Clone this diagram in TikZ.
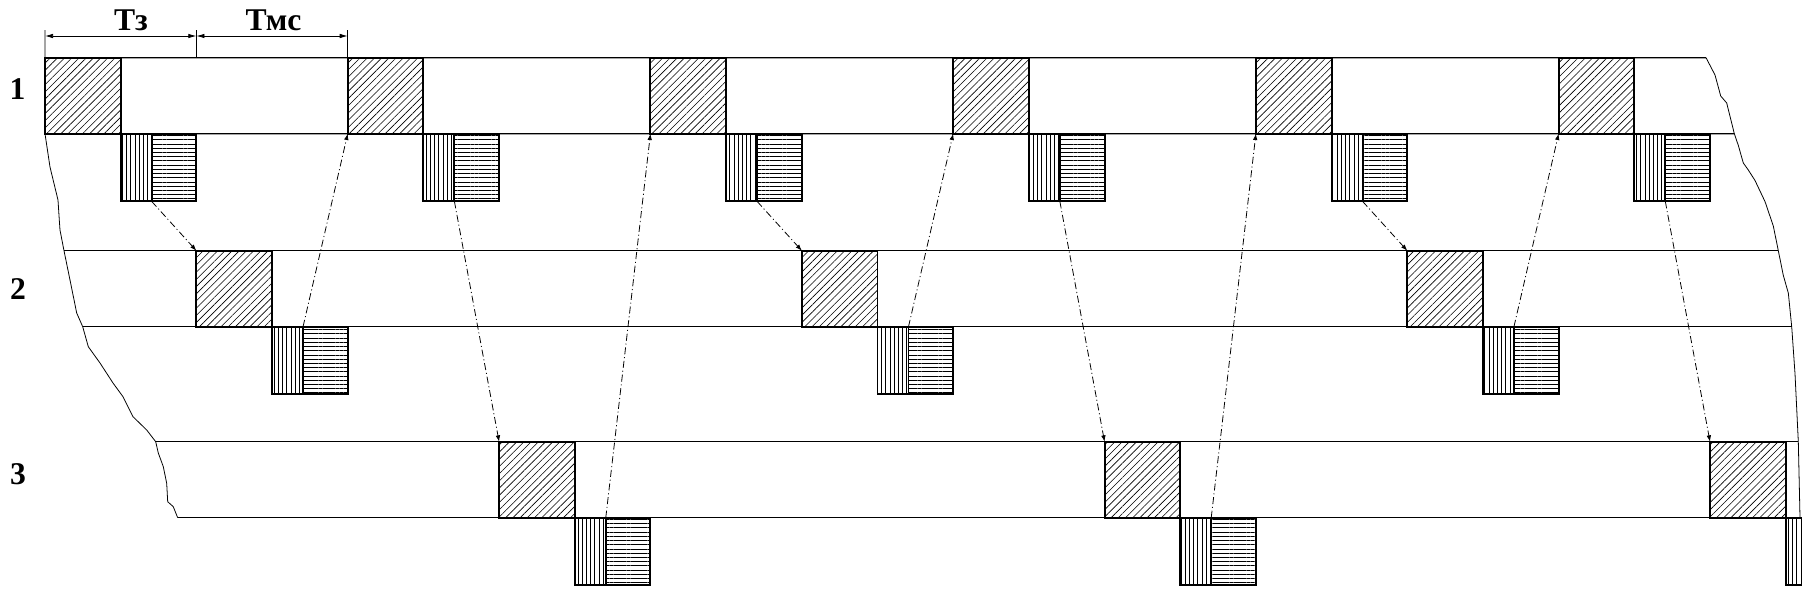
\documentclass[tikz,border=0pt]{standalone}
\usepackage{fontspec}
\setmainfont{Liberation Serif}
\usetikzlibrary{positioning, arrows.meta, patterns.meta}

\begin{document}
\begin{tikzpicture}[x=0.2mm, y=-0.2mm, on grid,
        blk/.style={draw, line width=1.1pt, inner sep=0pt, outer sep=0pt,
            minimum width=15.136mm, minimum height=15.2mm,
            pattern={Lines[angle=45, distance=2.9pt, line width=0.35pt]}},
        vbar/.style={draw, line width=1.1pt, inner sep=0pt, outer sep=0pt, anchor=north west,
            minimum width=6.2mm, minimum height=13.54mm,
            pattern={Lines[angle=90, distance=2.4pt, line width=0.35pt]}},
        hbar/.style={vbar, minimum width=8.936mm,
            pattern={Lines[angle=0, distance=2.4pt, line width=0.35pt]}},
        row/.style={line width=0.75pt},
        brk/.style={line width=0.45pt},
        sig/.style={line width=0.45pt, dash pattern=on 4pt off 1.6pt on 0.6pt off 1.6pt,
            -{Latex[length=3.6pt, width=2.6pt]}},
        dim/.style={line width=0.45pt,
            {Latex[length=4.6pt, width=2.6pt]}-{Latex[length=4.6pt, width=2.6pt]}},
        lbl/.style={font=\fontsize{18}{20}\selectfont\bfseries, inner sep=0pt}]

        \useasboundingbox (0,0) rectangle (1802,591);
        \clip (0,0) rectangle (1802,591);

        % Blocks
        \node[blk] (b0) at (82.84,95.7) {};
        \node[blk] (b1) [below right=38.6mm and 30.272mm of b0] {};
        \node[blk] (b2) [right=60.544mm of b0] {};
        \node[blk] (b3) [below right=76.8mm and 30.272mm of b2] {};
        \node[blk] (b4) [right=60.544mm of b2] {};
        \node[blk] (b5) [below right=38.6mm and 30.272mm of b4] {};
        \node[blk] (b6) [right=60.544mm of b4] {};
        \node[blk] (b7) [below right=76.8mm and 30.272mm of b6] {};
        \node[blk] (b8) [right=60.544mm of b6] {};
        \node[blk] (b9) [below right=38.6mm and 30.272mm of b8] {};
        \node[blk] (b10) [right=60.544mm of b8] {};
        \node[blk] (b11) [below right=76.8mm and 30.272mm of b10] {};

        % Replies
        \node[vbar] (v0) at (b0.south east) {};   \node[hbar] (h0) at (v0.north east) {};
        \node[vbar] (v1) at (b1.south east) {};   \node[hbar] (h1) at (v1.north east) {};
        \node[vbar] (v2) at (b2.south east) {};   \node[hbar] (h2) at (v2.north east) {};
        \node[vbar] (v3) at (b3.south east) {};   \node[hbar] (h3) at (v3.north east) {};
        \node[vbar] (v4) at (b4.south east) {};   \node[hbar] (h4) at (v4.north east) {};
        \node[vbar] (v5) at (b5.south east) {};   \node[hbar] (h5) at (v5.north east) {};
        \node[vbar] (v6) at (b6.south east) {};   \node[hbar] (h6) at (v6.north east) {};
        \node[vbar] (v7) at (b7.south east) {};   \node[hbar] (h7) at (v7.north east) {};
        \node[vbar] (v8) at (b8.south east) {};   \node[hbar] (h8) at (v8.north east) {};
        \node[vbar] (v9) at (b9.south east) {};   \node[hbar] (h9) at (v9.north east) {};
        \node[vbar] (v10) at (b10.south east) {}; \node[hbar] (h10) at (v10.north east) {};
        \node[vbar] (v11) at (b11.south east) {}; \node[hbar] (h11) at (v11.north east) {};

        % Break lines
        \coordinate (L2t) at (64,250.7);
        \coordinate (L2b) at (82.7,326.7);
        \coordinate (L3t) at (155.7,441.7);
        \coordinate (L3b) at (177.7,517.7);
        \coordinate (R1t) at (1706,57.7);
        \coordinate (R1b) at (1734.3,133.7);
        \coordinate (R2t) at (1778.3,250.7);
        \coordinate (R2b) at (1791.7,326.7);
        \coordinate (R3t) at (1798.3,441.7);
        \coordinate (R3b) at (1800,517.7);
        \draw[brk] (b0.south west) -- (50,167) -- (58,200) -- (59.3,220) -- (60,230) -- (L2t)
            -- (70,280) -- (76.7,313) -- (L2b) -- (88.3,346.7) -- (100,363) -- (113,383)
            -- (123,396.7) -- (133,416.7) -- (146.7,430) -- (L3t) -- (158.3,453) -- (163.3,466.7)
            -- (166.7,483.3) -- (167.7,501.7) -- (173.3,506.7) -- (L3b);
        \draw[brk] (R1t) -- (1715,75) -- (1720.7,96) -- (1726.7,103) -- (R1b) -- (1738.3,145.4)
            -- (1743.3,163) -- (1748.3,170) -- (1755,180.5) -- (1765,201.6) -- (1773.3,226)
            -- (R2t) -- (1783.3,275.4) -- (1788.3,293) -- (R2b) -- (1795,373.8) -- (R3t) -- (R3b);

        % Rows
        \draw[row] (b0.north west) -- (R1t);
        \draw[row] (b0.south west) -- (R1b);
        \draw[row] (L2t) -- (R2t);
        \draw[row] (L2b) -- (R2b);
        \draw[row] (L3t) -- (R3t);
        \draw[row] (L3b) -- (R3b);

        % Transfers
        \path[sig]
            (h0.south west) edge (b1.north west)
            (h1.north west) edge (b2.south west)
            (h2.south west) edge (b3.north west)
            (h3.north west) edge (b4.south west)
            (h4.south west) edge (b5.north west)
            (h5.north west) edge (b6.south west)
            (h6.south west) edge (b7.north west)
            (h7.north west) edge (b8.south west)
            (h8.south west) edge (b9.north west)
            (h9.north west) edge (b10.south west)
            (h10.south west) edge (b11.north west);

        % Dimensions
        \coordinate (t0) at (45,30);
        \coordinate (d0) at (45,36);
        \draw[brk] (t0) -- (b0.north west);
        \draw[brk] (b1.north west |- t0) -- (b1.north west |- b0.north);
        \draw[brk] (b2.north west |- t0) -- (b2.north west);
        \draw[dim] (d0) -- (d0 -| b1.west);
        \draw[dim] (d0 -| b1.west) -- (d0 -| b2.west);

        % Labels
        \node[lbl] (tz) at (131,20) {Тз};
        \node[lbl] (tms) at (273.5,20) {Тмс};
        \node[lbl] (n1) at (17.5,89.5) {1};
        \node[lbl] (n2) at (18,289) {2};
        \node[lbl] (n3) at (18,474) {3};
    \end{tikzpicture}
\end{document}
